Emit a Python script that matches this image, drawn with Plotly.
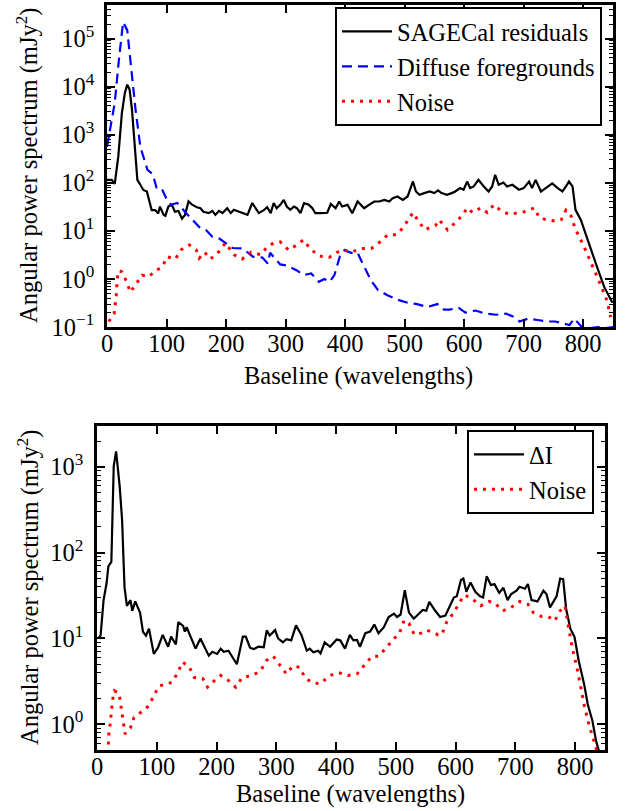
import math
import plotly.graph_objects as go

# ---------------- Top panel data ----------------
sage_x = [0, 8, 13, 19, 25, 30, 34, 38, 42, 47, 51, 56, 61, 67, 72, 75, 81, 86, 89, 95,
          98, 103, 109, 114, 120, 126, 131, 137, 143, 151, 157, 162, 171, 177, 182, 188, 194,
          202, 208, 213, 222, 230, 236, 244, 250, 255, 264, 269, 275, 280, 285, 291, 297,
          302, 308, 314, 319, 325, 331, 339, 345, 350, 359, 370, 376, 384, 390, 395, 404,
          412, 421, 426, 432, 440, 449, 457, 466, 474, 480, 488, 497, 505, 514, 519, 525,
          533, 542, 550, 556, 562, 571, 579, 585, 593, 599, 605, 610, 616, 624, 633, 641,
          647, 652, 658, 666, 672, 681, 692, 700, 709, 714, 720, 729, 737, 748, 757, 765,
          771, 776, 782, 787, 796, 807, 821, 835, 849]
sage_y = [115, 115, 95, 354, 2820, 7400, 11000, 8700, 3300, 487, 115, 91, 71, 66, 38, 27, 27, 23, 32, 21.6,
          20.5, 32, 35, 25, 26, 18, 21.5, 41, 35, 31, 29.5, 25, 23.4, 26, 21.5, 26, 23.4,
          29.5, 23.4, 27.4, 25, 23.4, 21.5, 38, 29.5, 23.4, 27.4, 31, 23.4, 38, 29.6, 34.8, 44.2,
          32.1, 27.4, 32.1, 29.6, 23.3, 37.8, 34.8, 29.6, 23.3, 23.3, 23.8, 36.5, 29.6, 40.8, 32.1, 34.8,
          23.3, 40.8, 34.8, 29.6, 34.8, 40.8, 40.8, 44.2, 40.8, 47.9, 51.9, 44.2, 51.9, 106.6, 66, 56.2,
          61, 66, 61, 69.2, 61, 56.2, 61, 66, 77.6, 71.7, 106, 77.6, 84, 115, 84, 66,
          84, 147, 91, 101.5, 84, 91, 71.7, 77.6, 106, 77.6, 115, 66, 77.6, 97, 77.6, 66,
          84, 106, 84, 27.4, 16.9, 6.5, 2.12, 0.69, 0.32]

diff_x = [0, 13, 20, 27, 34, 40, 48, 56, 68, 77, 83, 91, 99, 107, 118, 132, 143, 155, 166,
          177, 188, 200, 211, 228, 245, 261, 270, 274, 291, 302, 319, 330, 343, 356, 365, 374,
          382, 391, 399, 410, 421, 432, 443, 455, 471, 488, 505, 521, 538, 555, 566, 575, 591,
          602, 619, 635, 654, 670, 685, 693, 708, 723, 740, 753, 766, 777, 785, 796, 810, 825,
          838, 850]
diff_y = [560, 4600, 36000, 220000, 150000, 26000, 3300, 560, 185, 150, 80, 80, 49, 35, 38, 24,
          17, 12, 10.5, 7.5, 7, 5.6, 4.4, 4.3, 2.9, 2.8, 2.1, 3.5, 2.0, 1.9, 1.5, 1.2, 1.3, 0.87,
          1.0, 0.87, 1.2, 2.9, 4.0, 3.5, 3.5, 1.8, 0.95, 0.59, 0.46, 0.37, 0.32, 0.3, 0.26, 0.3,
          0.23, 0.23, 0.25, 0.2, 0.22, 0.19, 0.18, 0.19, 0.16, 0.13, 0.15, 0.14, 0.13, 0.13, 0.12,
          0.11, 0.15, 0.105, 0.095, 0.1, 0.095, 0.1]

noise1_x = [3, 12, 16, 17, 20, 25, 34, 39, 50, 59, 70, 79, 93, 101, 115, 124, 138, 150, 155,
            164, 173, 184, 199, 213, 227, 242, 258, 269, 280, 291, 305, 318, 330, 341, 356, 373,
            387, 398, 410, 427, 444, 458, 472, 486, 497, 514, 523, 534, 545, 552, 558, 572, 583,
            597, 605, 614, 628, 639, 650, 662, 676, 687, 701, 718, 726, 738, 752, 763, 771, 780,
            786, 800, 814, 828, 840, 846]
noise1_y = [0.13, 0.19, 0.51, 1.0, 1.5, 1.4, 0.82, 0.53, 0.82, 1.2, 1.1, 1.4, 1.8, 2.9, 2.6, 4.0,
            5.1, 4.0, 2.7, 3.6, 2.6, 3.2, 5.6, 3.2, 2.6, 3.6, 3.2, 4.6, 5.6, 5.9, 4.0, 5.0, 6.5,
            4.3, 3.0, 2.8, 3.6, 4.0, 3.6, 4.3, 4.3, 5.8, 8.3, 8.3, 11.5, 24, 16, 10.5, 12, 13, 17,
            10.5, 14, 21, 30, 24, 30, 24, 35, 26, 22, 23, 25, 30, 19, 17, 16, 17, 27, 20, 11.5,
            5.1, 2.1, 0.82, 0.35, 0.16]

# ---------------- Bottom panel data ----------------
dI_x = [2, 6, 11, 16, 19, 24, 28, 32, 38, 42, 46, 50, 56, 59, 64, 72, 77, 82, 87, 95,
        102, 110, 119, 124, 132, 136, 144, 147, 150, 165, 173, 187, 193, 201, 207, 212, 220,
        234, 244, 249, 256, 262, 270, 279, 284, 289, 298, 303, 311, 317, 325, 333, 342, 351,
        356, 362, 370, 374, 381, 390, 401, 407, 415, 423, 429, 435, 440, 449, 457, 464, 471,
        480, 488, 497, 502, 508, 515, 522, 530, 536, 545, 551, 556, 566, 574, 583, 588, 597,
        602, 609, 613, 618, 625, 633, 641, 646, 652, 659, 665, 673, 680, 687, 693, 702, 707,
        716, 721, 727, 737, 747, 752, 758, 764, 769, 775, 780, 785, 792, 799, 806, 815, 821,
        829, 835, 840]
dI_y = [10, 10.8, 28, 44, 69, 78, 1020, 1520, 590, 240, 40, 24, 28, 21, 27, 20, 11.9, 10.8, 13, 6.6,
        7.8, 11, 8, 10.5, 8.5, 15.5, 14, 12, 13.5, 7.6, 10, 6.3, 7.0, 6.6, 7.6, 7.0, 7.2,
        5.0, 10.5, 10.5, 7.8, 7.5, 8, 7.9, 12.4, 10.8, 12.5, 10, 9, 9.8, 9.5, 14.2, 11, 7.2,
        7.6, 6.9, 7.2, 6.7, 9, 8, 9.7, 9.5, 7.6, 11, 9.5, 9.6, 8, 11.5, 12, 14.5, 11.5,
        13.5, 17.8, 19.5, 17.8, 19, 36.5, 20, 17, 18.5, 21.5, 21, 26.7, 21, 17.8, 18.5, 22, 30,
        31, 48, 50, 35, 45, 35, 31, 30, 53, 42, 43, 34, 39, 28, 33, 36, 40,
        38, 43, 28, 27, 36, 33, 23, 27, 31, 50, 49, 22, 13, 10.4, 5.5, 2.95, 1.72,
        1.09, 0.64, 0.48]

noise2_x = [19, 20, 22, 24, 26, 29, 37, 39.5, 42, 45, 47, 56, 62, 73, 87, 95, 104, 115, 126,
            135, 143, 154, 163, 177, 185, 196, 207, 221, 232, 243, 260, 274, 283, 295, 306, 317,
            328, 339, 348, 359, 373, 390, 404, 420, 435, 449, 460, 471, 485, 496, 505, 514, 522,
            531, 542, 551, 559, 571, 577, 585, 597, 605, 614, 625, 642, 656, 665, 679, 693, 707,
            721, 730, 744, 755, 766, 775, 783, 789, 795, 803, 809, 816, 823, 831, 836]
noise2_y = [0.58, 0.8, 1.0, 1.37, 1.9, 2.45, 2.3, 1.72, 1.31, 1.0, 0.77, 0.91, 1.2, 1.37, 1.64,
            2.15, 2.8, 2.9, 3.1, 4.0, 5.3, 4.7, 3.5, 3.4, 2.7, 3.2, 3.7, 3.2, 2.7, 3.5, 3.7, 4.2,
            5.5, 6.2, 4.8, 3.85, 4.8, 4.6, 3.5, 3.07, 2.95, 3.7, 4.0, 3.7, 3.85, 5.0, 6.2, 6.2,
            7.9, 9.9, 11, 16.3, 15, 11, 11.5, 12.5, 12, 11, 11, 15.5, 20, 25, 32, 30, 24, 27, 26,
            21, 23, 27, 25, 20, 18, 18, 16, 21, 24, 13.5, 7.9, 4.6, 2.7, 1.57, 1.0, 0.64, 0.5]

x_ticks = [0, 100, 200, 300, 400, 500, 600, 700, 800]
top_decades = [-1, 0, 1, 2, 3, 4, 5]
bot_decades = [0, 1, 2, 3]

FONT = "Liberation Serif"
FS = 24.5
W, H = 625, 811


def sup_label(d):
    s = str(d).replace("-", "\u2212")
    return "10<sup>" + s + "</sup>"


def minor_vals(lo, hi):
    vals = []
    for d in range(lo, hi + 1):
        for k in range(2, 10):
            vals.append(k * 10 ** d)
    return vals


fig = go.Figure()
fig.add_trace(go.Scatter(x=sage_x, y=sage_y, mode="lines", name="SAGECal residuals",
                         line=dict(color="black", width=2.2), xaxis="x", yaxis="y", legend="legend"))
fig.add_trace(go.Scatter(x=diff_x, y=diff_y, mode="lines", name="Diffuse foregrounds",
                         line=dict(color="#0000ff", width=2.2, dash="10px,6px"), xaxis="x", yaxis="y",
                         legend="legend"))
fig.add_trace(go.Scatter(x=noise1_x, y=noise1_y, mode="lines", name="Noise",
                         line=dict(color="#ff0000", width=3, dash="3px,6px"), xaxis="x", yaxis="y",
                         legend="legend"))
fig.add_trace(go.Scatter(x=dI_x, y=dI_y, mode="lines", name="\u0394I",
                         line=dict(color="black", width=2.2), xaxis="x2", yaxis="y2", legend="legend2"))
fig.add_trace(go.Scatter(x=noise2_x, y=noise2_y, mode="lines", name="Noise",
                         line=dict(color="#ff0000", width=3, dash="3px,6px"), xaxis="x2", yaxis="y2",
                         legend="legend2"))

common = dict(showline=True, linecolor="black", linewidth=2.5, mirror="allticks",
              ticks="inside", ticklen=8, tickwidth=1.5, tickcolor="black", showgrid=False,
              zeroline=False, automargin=False,
              tickfont=dict(family=FONT, size=FS, color="black"))

xt = dict(tickmode="array", tickvals=x_ticks, ticktext=[str(v) for v in x_ticks], range=[0, 850],
          ticklabelstandoff=-7)

fig.update_layout(
    width=W, height=H, margin=dict(l=0, r=0, t=0, b=0),
    paper_bgcolor="white", plot_bgcolor="white",
    font=dict(family=FONT, size=FS, color="black"),
    xaxis=dict(domain=[107 / W, 613 / W], anchor="y", **xt, **common),
    yaxis=dict(domain=[1 - 327 / H, 1 - 5 / H], anchor="x", type="log",
               range=[-1, math.log10(5e5)], tickmode="array",
               tickvals=[10 ** d for d in top_decades],
               ticktext=[sup_label(d) for d in top_decades], ticklabelstandoff=5,
               minor=dict(ticks="inside", ticklen=4, tickwidth=1, tickcolor="black",
                          tickmode="array", tickvals=minor_vals(-1, 5), showgrid=False),
               **common),
    xaxis2=dict(domain=[97 / W, 605 / W], anchor="y2", **xt, **common),
    yaxis2=dict(domain=[1 - 750 / H, 1 - 426 / H], anchor="x2", type="log",
                range=[math.log10(0.5), math.log10(3000)], tickmode="array",
                tickvals=[10 ** d for d in bot_decades],
                ticktext=[sup_label(d) for d in bot_decades], ticklabelstandoff=6,
                minor=dict(ticks="inside", ticklen=4, tickwidth=1, tickcolor="black",
                           tickmode="array", tickvals=minor_vals(-1, 3), showgrid=False),
                **common),
    legend=dict(x=602 / W, y=1 - 7 / H, xanchor="right", yanchor="top",
                bordercolor="black", borderwidth=2, bgcolor="white", itemwidth=50,
                font=dict(family=FONT, size=FS, color="black"), tracegroupgap=0),
    legend2=dict(x=594 / W, y=1 - 430 / H, xanchor="right", yanchor="top",
                 bordercolor="black", borderwidth=2, bgcolor="white", itemwidth=50,
                 font=dict(family=FONT, size=FS, color="black"), tracegroupgap=0),
    showlegend=True,
)

ann_font = dict(family=FONT, size=FS, color="black")
fig.add_annotation(text="Baseline (wavelengths)", x=358 / W, y=1 - 376 / H, xref="paper", yref="paper",
                   showarrow=False, font=ann_font, xanchor="center", yanchor="middle")
fig.add_annotation(text="Baseline (wavelengths)", x=350 / W, y=1 - 794 / H, xref="paper", yref="paper",
                   showarrow=False, font=ann_font, xanchor="center", yanchor="middle")
fig.add_annotation(text="Angular power spectrum (mJy<sup>2</sup>)", x=28 / W, y=1 - 166 / H,
                   xref="paper", yref="paper", showarrow=False, font=ann_font, textangle=-90,
                   xanchor="center", yanchor="middle")
fig.add_annotation(text="Angular power spectrum (mJy<sup>2</sup>)", x=28 / W, y=1 - 588 / H,
                   xref="paper", yref="paper", showarrow=False, font=ann_font, textangle=-90,
                   xanchor="center", yanchor="middle")

fig.write_html("out.html", config={"displayModeBar": False},
               post_script="document.body.style.margin='0px';")
